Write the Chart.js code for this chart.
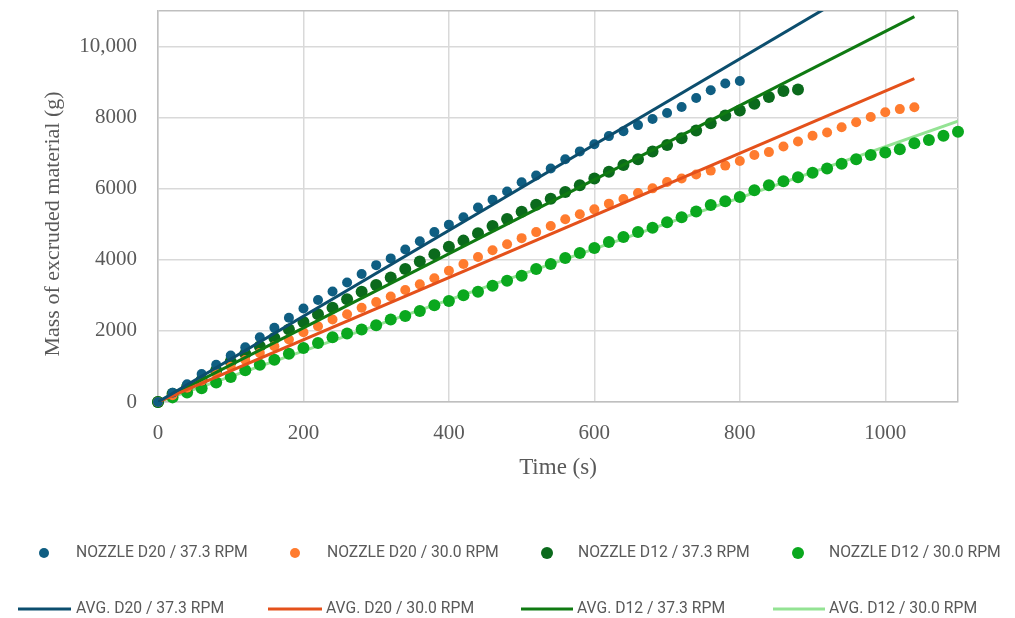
<!DOCTYPE html>
<html>
<head>
<meta charset="utf-8">
<script src="https://cdn.jsdelivr.net/npm/chart.js@4.4.1/dist/chart.umd.min.js"></script>
<style>
html,body{margin:0;padding:0;background:#ffffff;}
#wrap{width:1015px;height:618px;position:relative;}
</style>
</head>
<body>
<div id="wrap"><canvas id="c" width="1015" height="618"></canvas></div>
<script>
// ---- DATA ----
const timeS = [0,20,40,60,80,100,120,140,160,180,200,220,240,260,280,300,320,340,360,380,400,420,440,460,480,500,520,540,560,580,600,620,640,660,680,700,720,740,760,780,800,820,840,860,880,900,920,940,960,980,1000,1020,1040,1060,1080,1100];

const massD20_373 = [0,260,500,790,1050,1310,1540,1820,2090,2370,2630,2870,3110,3360,3600,3850,4040,4290,4520,4780,4990,5200,5470,5690,5920,6180,6370,6570,6830,7050,7250,7480,7620,7790,7960,8130,8300,8550,8770,8960,9030];
const massD20_300 = [0,190,400,600,800,990,1180,1380,1570,1760,1960,2130,2320,2470,2650,2810,2970,3150,3310,3480,3690,3880,4080,4270,4440,4610,4780,4950,5140,5280,5420,5580,5710,5880,6010,6190,6290,6400,6510,6650,6780,6950,7030,7190,7330,7490,7580,7730,7870,8020,8150,8240,8290];
const massD12_373 = [0,230,430,620,890,1140,1360,1570,1800,2040,2250,2470,2650,2890,3100,3290,3500,3740,3950,4160,4370,4540,4750,4950,5150,5350,5550,5720,5910,6100,6290,6480,6670,6830,7050,7230,7420,7640,7840,8060,8200,8390,8580,8750,8790];
const massD12_300 = [0,130,270,390,550,700,890,1050,1190,1360,1520,1660,1820,1930,2040,2160,2320,2420,2560,2720,2840,3000,3100,3270,3410,3550,3740,3880,4050,4190,4330,4500,4640,4780,4900,5060,5200,5360,5540,5650,5770,5960,6100,6210,6320,6450,6570,6700,6830,6950,7020,7110,7280,7370,7490,7600];

// average (trend) lines: start and end points [time, mass]
const avgD20_373 = [[0,0],[1040,12550]];
const avgD20_300 = [[0,0],[1040,9100]];
const avgD12_373 = [[0,0],[1040,10840]];
const avgD12_300 = [[0,0],[1100,7900]];

const pointLabels = ['NOZZLE D20 / 37.3 RPM','NOZZLE D20 / 30.0 RPM','NOZZLE D12 / 37.3 RPM','NOZZLE D12 / 30.0 RPM'];
const lineLabels  = ['AVG. D20 / 37.3 RPM','AVG. D20 / 30.0 RPM','AVG. D12 / 37.3 RPM','AVG. D12 / 30.0 RPM'];

const xTickValues = [0,200,400,600,800,1000,1100];
const xTickLabels = ['0','200','400','600','800','1000',''];
const yTickValues = [0,2000,4000,6000,8000,10000,11000];
const yTickLabels = ['0','2000','4000','6000','8000','10,000',''];

const xTitle = 'Time (s)';
const yTitle = 'Mass of excruded material (g)';

// ---- BUILD ----
const toXY = (ys) => ys.map((v,i)=>({x:timeS[i], y:v}));
const pairXY = (arr) => arr.map(p=>({x:p[0], y:p[1]}));

const pointColors = ['#0f5e82','#ff7b2e','#0b6a1c','#0aa81e'];
const pointRadii  = [5,5,6,6];
const lineColors  = ['#0c4e6e','#e4511b','#0f7a12','#94e394'];

const pointSeries = [massD20_373, massD20_300, massD12_373, massD12_300];
const lineSeries  = [avgD20_373, avgD20_300, avgD12_373, avgD12_300];

const datasets = [];
pointSeries.forEach((s,i)=>{
  datasets.push({
    label: pointLabels[i], data: toXY(s), showLine:false,
    pointRadius: pointRadii[i], pointHoverRadius: pointRadii[i],
    backgroundColor: pointColors[i], borderColor: pointColors[i], borderWidth:0,
    order: 2, clip: false
  });
});
lineSeries.forEach((s,i)=>{
  datasets.push({
    label: lineLabels[i], data: pairXY(s), showLine:true, pointRadius:0,
    borderColor: lineColors[i], backgroundColor: lineColors[i], borderWidth: 3,
    order: i===3 ? 3 : 1
  });
});

const GRID = '#d9d9d9', FRAME = '#bfbfbf', TXT = '#595959';

const legendPlugin = {
  id:'customLegend',
  afterDraw(chart){
    const ctx = chart.ctx;
    ctx.save();
    ctx.font = '15.7px Roboto';
    ctx.textBaseline = 'middle';
    ctx.textAlign = 'left';
    const dotX = [44, 295, 547, 798], textX1 = [76, 327, 578, 829];
    const lineX = [[18,71],[268,322],[521,573],[773,825]], textX2 = [76, 326, 577, 829];
    const ds = chart.data.datasets;
    for (let i=0;i<4;i++){
      const p = ds[i];
      ctx.beginPath();
      ctx.fillStyle = p.backgroundColor;
      ctx.arc(dotX[i], 553, p.pointRadius, 0, Math.PI*2);
      ctx.fill();
      ctx.fillStyle = TXT;
      ctx.fillText(p.label, textX1[i], 553);
      const l = ds[i+4];
      ctx.beginPath();
      ctx.strokeStyle = l.borderColor;
      ctx.lineWidth = 3;
      ctx.moveTo(lineX[i][0], 609); ctx.lineTo(lineX[i][1], 609);
      ctx.stroke();
      ctx.fillStyle = TXT;
      ctx.fillText(l.label, textX2[i], 609);
    }
    // y axis title
    ctx.translate(53, 224);
    ctx.rotate(-Math.PI/2);
    ctx.font = '22px "Liberation Serif"';
    ctx.textAlign = 'center';
    ctx.fillStyle = TXT;
    ctx.fillText(yTitle, 0, 0);
    ctx.restore();
  }
};

new Chart(document.getElementById('c'), {
  type:'scatter',
  data:{ datasets },
  options:{
    responsive:false, animation:false,
    layout:{ padding:{ left:34, top:11, right:57, bottom:136 } },
    plugins:{ legend:{display:false}, tooltip:{enabled:false} },
    scales:{
      x:{
        type:'linear', min:0, max:1100,
        afterBuildTicks: s => { s.ticks = xTickValues.map(v=>({value:v})); },
        afterFit: s => { s.height = 80; s.paddingLeft = 0; s.paddingRight = 0; },
        ticks:{ autoSkip:false, maxRotation:0, padding:19, color:TXT,
          font:{family:'Liberation Serif', size:21},
          callback:(v,i)=>xTickLabels[i] },
        grid:{ drawTicks:false, lineWidth:1.5,
          color: c => (c.tick && c.tick.value===1100) ? FRAME : GRID },
        border:{ display:true, color:FRAME, width:1.5 },
        title:{ display:true, text:xTitle, color:TXT, padding:{top:4,bottom:0},
          font:{family:'Liberation Serif', size:23} }
      },
      y:{
        type:'linear', min:0, max:11000,
        afterBuildTicks: s => { s.ticks = yTickValues.map(v=>({value:v})); },
        afterFit: s => { s.width = 124; s.paddingTop = 0; s.paddingBottom = 0; },
        ticks:{ autoSkip:false, padding:21, color:TXT,
          font:{family:'Liberation Serif', size:21},
          callback:(v,i)=>yTickLabels[i] },
        grid:{ drawTicks:false, lineWidth:1.5,
          color: c => (c.tick && c.tick.value===11000) ? FRAME : GRID },
        border:{ display:true, color:FRAME, width:1.5 },
        title:{ display:false }
      }
    }
  },
  plugins:[legendPlugin]
});
</script>
</body>
</html>
